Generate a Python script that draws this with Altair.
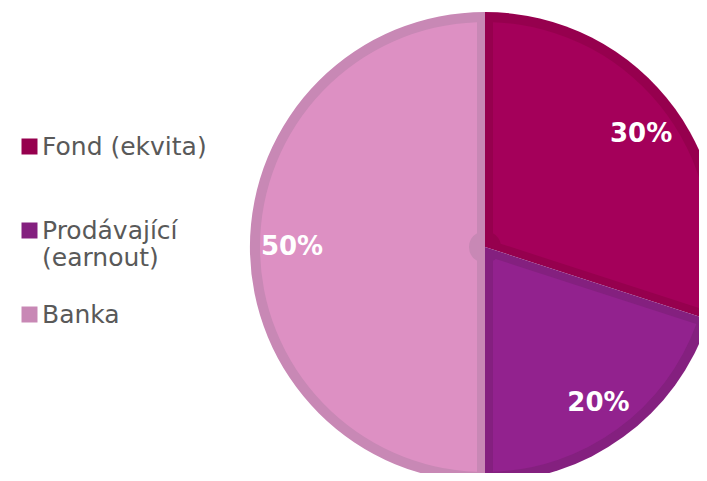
import altair as alt
import pandas as pd

categories = ["Fond (ekvita)", "Prodávající (earnout)", "Banka"]
values = [30, 20, 50]
labels = ["30%", "20%", "50%"]
fill_colors = ["#A4005A", "#92228E", "#DD90C3"]
border_colors = ["#96004E", "#84207F", "#C888B5"]

df = pd.DataFrame({
    "cat": categories,
    "value": values,
    "label": labels,
    "fill": fill_colors,
    "order": list(range(len(categories))),
})

CX, CY = 477, 239
R_OUT = 235
R_IN = 225
R_HOLE = 16
PAD = 16 / ((R_HOLE ** 2 + R_IN ** 2) ** 0.5)

base = alt.Chart(df).encode(
    theta=alt.Theta("value:Q", stack=True),
    order=alt.Order("order:Q", sort="ascending"),
    x=alt.value(CX),
    y=alt.value(CY),
)

outer = base.mark_arc(outerRadius=R_OUT, stroke=None).encode(
    color=alt.Color(
        "cat:N",
        sort=categories,
        scale=alt.Scale(domain=categories, range=border_colors),
        legend=alt.Legend(
            title=None,
            orient="none",
            legendX=9,
            legendY=126,
            symbolType="square",
            symbolSize=256,
            symbolStrokeWidth=0,
            symbolOpacity=1,
            labelFont="DejaVu Sans",
            labelFontSize=25,
            labelColor="#595959",
            labelOffset=0,
            labelLimit=400,
            rowPadding=31,
            padding=0,
            labelExpr=(
                "datum.label == 'Prodávající (earnout)' ? ['Prodávající', '(earnout)'] : "
                "datum.label == 'Fond (ekvita)' ? ['Fond (ekvita)', ''] : datum.label"
            ),
        ),
    )
)

inner = base.mark_arc(
    outerRadius=R_IN, innerRadius=R_HOLE, padAngle=PAD, stroke=None
).encode(
    color=alt.Color("fill:N", scale=None, legend=None)
)

text = base.mark_text(
    radius=193,
    font="DejaVu Sans",
    fontSize=26,
    fontWeight="bold",
    color="white",
    align="center",
    baseline="middle",
).encode(text="label:N")

chart = (
    alt.layer(outer, inner, text)
    .resolve_scale(color="independent")
    .properties(width=691, height=465, padding=0, autosize=alt.AutoSizeParams(type="none"))
    .configure_view(stroke=None)
)

chart.save("out.html", embed_options={"renderer": "svg", "actions": False})
